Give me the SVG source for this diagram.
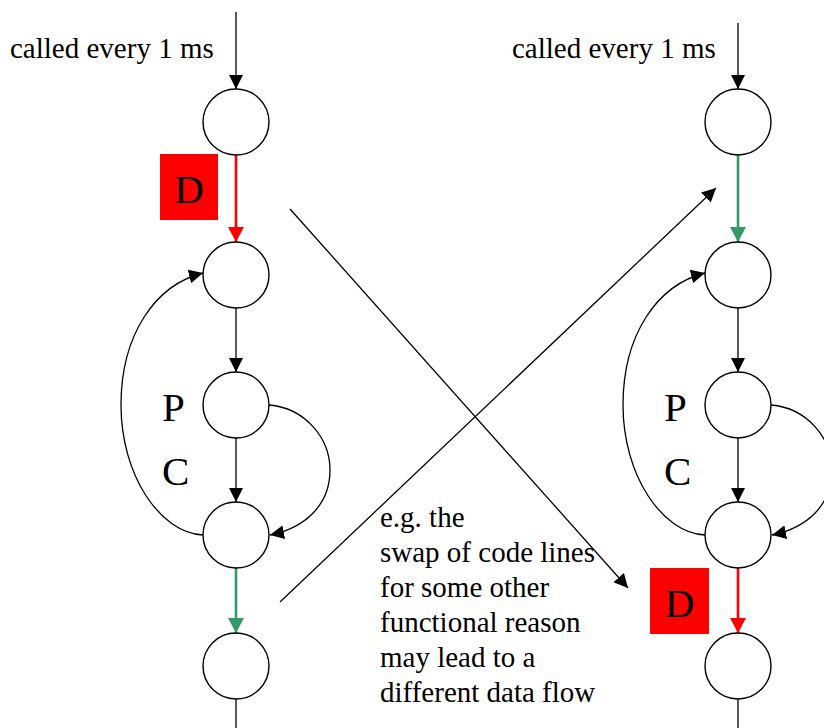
<svg xmlns="http://www.w3.org/2000/svg" width="824" height="728" viewBox="0 0 824 728">
<defs>
<style>
.node{fill:#fff;stroke:#000;stroke-width:1.4}
.ln{fill:none;stroke:#000;stroke-width:1.3}
.red{fill:none;stroke:#ff0000;stroke-width:2.6}
.grn{fill:none;stroke:#339966;stroke-width:2.6}
.t{font-family:"Liberation Serif","Times New Roman",serif;font-size:29px;fill:#000}
.big{font-family:"Liberation Serif","Times New Roman",serif;font-size:41px;fill:#000}
.dbox{fill:#ff0000}
</style>
<marker id="ab" markerUnits="userSpaceOnUse" markerWidth="14" markerHeight="14" refX="14" refY="7" orient="auto"><path d="M0,0 L14,7 L0,14 z" fill="#000"/></marker>
<marker id="ar" markerUnits="userSpaceOnUse" markerWidth="16" markerHeight="16" refX="15" refY="8" orient="auto"><path d="M0,0 L15,8 L0,16 z" fill="#ff0000"/></marker>
<marker id="ag" markerUnits="userSpaceOnUse" markerWidth="16" markerHeight="16" refX="15" refY="8" orient="auto"><path d="M0,0 L15,8 L0,16 z" fill="#339966"/></marker>
</defs>
<rect width="824" height="728" fill="#fff"/>
<g id="connectors">
<!-- left column -->
<line class="ln" x1="236" y1="12" x2="236" y2="89" marker-end="url(#ab)"/>
<line class="red" x1="236" y1="155" x2="236" y2="242" marker-end="url(#ar)"/>
<line class="ln" x1="236" y1="308" x2="236" y2="372" marker-end="url(#ab)"/>
<line class="ln" x1="236" y1="438" x2="236" y2="502" marker-end="url(#ab)"/>
<line class="grn" x1="236" y1="568" x2="236" y2="633" marker-end="url(#ag)"/>
<line class="ln" x1="236" y1="699" x2="236" y2="728"/>
<path class="ln" d="M203,535 C160,533 121,475 121,405 C121,335 155,285 203,273" marker-end="url(#ab)"/>
<path class="ln" d="M269,405 C305,408 330,438 330,470 C330,505 305,528 270,535" marker-end="url(#ab)"/>
<!-- right column -->
<line class="ln" x1="738" y1="23" x2="738" y2="89" marker-end="url(#ab)"/>
<line class="grn" x1="738" y1="155" x2="738" y2="242" marker-end="url(#ag)"/>
<line class="ln" x1="738" y1="308" x2="738" y2="372" marker-end="url(#ab)"/>
<line class="ln" x1="738" y1="438" x2="738" y2="502" marker-end="url(#ab)"/>
<line class="red" x1="738" y1="568" x2="738" y2="633" marker-end="url(#ar)"/>
<line class="ln" x1="738" y1="699" x2="738" y2="728"/>
<path class="ln" d="M705,535 C662,533 623,475 623,405 C623,335 657,285 705,273" marker-end="url(#ab)"/>
<path class="ln" d="M771,405 C807,408 832,438 832,470 C832,505 807,528 772,535" marker-end="url(#ab)"/>
<!-- cross -->
<line class="ln" x1="290" y1="209" x2="628" y2="588" marker-end="url(#ab)"/>
<line class="ln" x1="280" y1="602" x2="716" y2="188" marker-end="url(#ab)"/>
</g>
<g id="n-l1"><circle class="node" cx="236" cy="122" r="33"/></g>
<g id="n-l2"><circle class="node" cx="236" cy="275" r="33"/></g>
<g id="n-l3"><circle class="node" cx="236" cy="405" r="33"/></g>
<g id="n-l4"><circle class="node" cx="236" cy="535" r="33"/></g>
<g id="n-l5"><circle class="node" cx="236" cy="666" r="33"/></g>
<g id="n-r1"><circle class="node" cx="738" cy="122" r="33"/></g>
<g id="n-r2"><circle class="node" cx="738" cy="275" r="33"/></g>
<g id="n-r3"><circle class="node" cx="738" cy="405" r="33"/></g>
<g id="n-r4"><circle class="node" cx="738" cy="535" r="33"/></g>
<g id="n-r5"><circle class="node" cx="738" cy="666" r="33"/></g>
<g id="d-left"><rect class="dbox" x="160" y="154" width="58" height="66"/><text class="big" x="189" y="203" text-anchor="middle">D</text></g>
<g id="d-right"><rect class="dbox" x="650" y="568" width="59" height="66"/><text class="big" x="679.5" y="617" text-anchor="middle">D</text></g>
<g id="labels">
<text class="t" x="10" y="58">called every 1 ms</text>
<text class="t" x="512" y="58">called every 1 ms</text>
<text class="big" x="162" y="421">P</text>
<text class="big" x="162" y="485">C</text>
<text class="big" x="664" y="421">P</text>
<text class="big" x="664" y="485">C</text>
<text class="t" x="380" y="527">e.g. the</text>
<text class="t" x="380" y="562">swap of code lines</text>
<text class="t" x="380" y="597">for some other</text>
<text class="t" x="380" y="632">functional reason</text>
<text class="t" x="380" y="667">may lead to a</text>
<text class="t" x="380" y="702">different data flow</text>
</g>
</svg>
